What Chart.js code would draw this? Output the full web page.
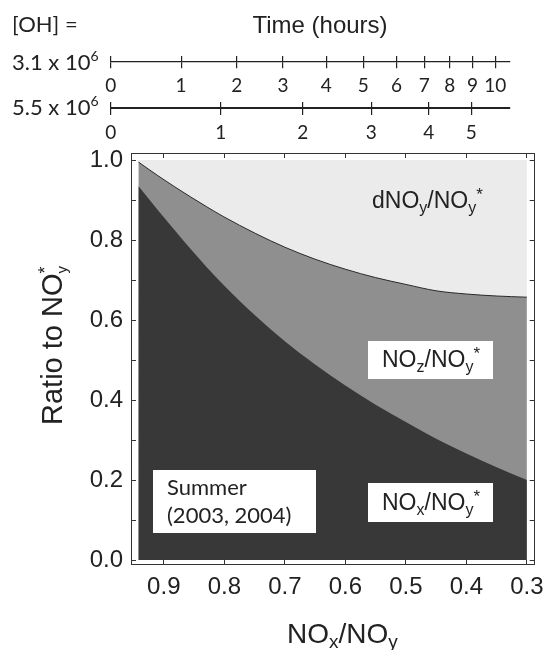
<!DOCTYPE html>
<html>
<head>
<meta charset="utf-8">
<script src="https://cdn.jsdelivr.net/npm/chart.js@4/dist/chart.umd.min.js"></script>
<style>
  html, body { margin: 0; padding: 0; background: #fff; }
  #wrap { position: relative; width: 558px; height: 650px; }
  #wrap canvas { position: absolute; left: 0; top: 0; }
</style>
</head>
<body>
<div id="wrap">
  <canvas id="main-chart" width="558" height="650"></canvas>
  <canvas id="time-chart" width="558" height="140"></canvas>
</div>
<script>
// NOx/NOy (x axis, runs right to left)
const noxNoy = [0.942, 0.91, 0.883, 0.856, 0.829, 0.802, 0.748, 0.70, 0.65, 0.60, 0.55, 0.50, 0.45, 0.40, 0.35, 0.30];
// NOy/NOy* : top of the mid-grey band
const noyFrac = [0.995, 0.961, 0.934, 0.908, 0.883, 0.859, 0.816, 0.782, 0.752, 0.727, 0.706, 0.689, 0.673, 0.665, 0.660, 0.657];
// NOx/NOy* : top of the dark band
const noxFrac = [0.935, 0.875, 0.826, 0.778, 0.732, 0.689, 0.610, 0.547, 0.489, 0.436, 0.388, 0.345, 0.303, 0.266, 0.232, 0.200];
// NOy* total
const totalX = [0.942, 0.30];
const totalFrac = [1.0, 1.0];

const xTicks = [0.9, 0.8, 0.7, 0.6, 0.5, 0.4, 0.3];
const yTicks = [0, 0.1, 0.2, 0.3, 0.4, 0.5, 0.6, 0.7, 0.8, 0.9, 1.0];

// time axes: NOx/NOy reached after each hour
const hoursOH31 = ['0', '1', '2', '3', '4', '5', '6', '7', '8', '9', '10'];
const posOH31 = [0.987, 0.873, 0.783, 0.708, 0.638, 0.578, 0.524, 0.479, 0.438, 0.401, 0.364];
const hoursOH55 = ['0', '1', '2', '3', '4', '5'];
const posOH55 = [0.987, 0.809, 0.676, 0.565, 0.472, 0.403];

const ARIAL = "'Liberation Sans', Arial, sans-serif";
const CALI = "Lato, 'Open Sans', sans-serif";
const INK = '#222';

function pts(xs, ys) {
    return xs.map((x, i) => ({ x: x, y: ys[i] }));
}

// text with sub/superscripts
function drawRich(ctx, parts, x, y, family, size) {
    let cx = x, prevStart = x;
    ctx.textBaseline = 'alphabetic';
    ctx.textAlign = 'left';
    for (const p of parts) {
        ctx.font = (p.s || size) + 'px ' + family;
        if (p.stack) cx = prevStart;
        prevStart = cx;
        ctx.fillText(p.t, cx, y + (p.dy || 0));
        cx += ctx.measureText(p.t).width;
    }
}

const labelsPlugin = {
    id: 'labels',
    afterDraw(chart) {
        const ctx = chart.ctx;
        ctx.save();
        ctx.fillStyle = INK;

        // y title
        ctx.save();
        ctx.translate(62, 425);
        ctx.rotate(-Math.PI / 2);
        drawRich(ctx, [
            { t: 'Ratio to NO' },
            { t: 'y', s: 15, dy: 5 },
            { t: '*', s: 18, dy: -11, stack: true }
        ], 0, 0, ARIAL, 29);
        ctx.restore();

        // x title
        drawRich(ctx, [
            { t: 'NO' }, { t: 'x', s: 19, dy: 5 }, { t: '/NO' }, { t: 'y', s: 19, dy: 5 }
        ], 287, 643, ARIAL, 28);

        // boxes
        ctx.fillStyle = '#fff';
        ctx.fillRect(153, 470, 163, 63);
        ctx.fillRect(368, 341, 125, 38);
        ctx.fillRect(368, 483, 125, 39);

        ctx.fillStyle = INK;
        ctx.font = '22px ' + CALI;
        ctx.textAlign = 'left';
        ctx.fillText('Summer', 167, 495);
        ctx.fillText('(2003, 2004)', 167, 523);

        drawRich(ctx, [
            { t: 'dNO' }, { t: 'y', s: 16, dy: 5 }, { t: '/NO' }, { t: 'y', s: 16, dy: 5 }, { t: '*', s: 17, dy: -8 }
        ], 372, 208, ARIAL, 23);
        drawRich(ctx, [
            { t: 'NO' }, { t: 'z', s: 16, dy: 5 }, { t: '/NO' }, { t: 'y', s: 16, dy: 5 }, { t: '*', s: 17, dy: -8 }
        ], 382, 367, ARIAL, 23);
        drawRich(ctx, [
            { t: 'NO' }, { t: 'x', s: 16, dy: 5 }, { t: '/NO' }, { t: 'y', s: 16, dy: 5 }, { t: '*', s: 17, dy: -8 }
        ], 382, 510, ARIAL, 23);
        ctx.restore();
    }
};

const frame = { color: '#333', width: 1 };
const inTicks = { drawOnChartArea: false, tickLength: -5, color: '#333', lineWidth: 1 };

new Chart(document.getElementById('main-chart'), {
    type: 'line',
    data: {
        datasets: [{
            label: 'NOx/NOy*',
            data: pts(noxNoy, noxFrac),
            fill: 'origin',
            backgroundColor: '#383838',
            borderColor: 'transparent',
            borderWidth: 0,
            pointRadius: 0,
            cubicInterpolationMode: 'monotone'
        }, {
            label: 'NOy/NOy*',
            data: pts(noxNoy, noyFrac),
            fill: 'origin',
            backgroundColor: '#8f8f8f',
            borderColor: '#2a2a2a',
            borderWidth: 1,
            pointRadius: 0,
            cubicInterpolationMode: 'monotone'
        }, {
            label: 'NOy*',
            data: pts(totalX, totalFrac),
            fill: 'origin',
            backgroundColor: '#ebebeb',
            borderColor: 'transparent',
            borderWidth: 0,
            pointRadius: 0
        }]
    },
    options: {
        responsive: false,
        animation: false,
        layout: { padding: 0 },
        plugins: { legend: { display: false }, tooltip: { enabled: false } },
        scales: {
            x: {
                type: 'linear', position: 'bottom', reverse: true, min: 0.2871, max: 0.9542,
                afterBuildTicks: s => { s.ticks = xTicks.map(v => ({ value: v })); },
                afterFit: s => { s.height = 86; },
                grid: inTicks, border: frame,
                ticks: {
                    autoSkip: false, maxRotation: 0, padding: 14, color: INK,
                    font: { family: ARIAL, size: 24 },
                    callback: v => v.toFixed(1)
                }
            },
            xTop: {
                type: 'linear', axis: 'x', position: 'top', reverse: true, min: 0.2871, max: 0.9542,
                afterBuildTicks: s => { s.ticks = xTicks.map(v => ({ value: v })); },
                afterFit: s => { s.height = 153; },
                grid: inTicks, border: frame,
                ticks: { display: false }
            },
            y: {
                type: 'linear', position: 'left', min: -0.01, max: 1.0175,
                afterBuildTicks: s => { s.ticks = yTicks.map(v => ({ value: v })); },
                afterFit: s => { s.width = 131; },
                grid: inTicks, border: frame,
                ticks: {
                    autoSkip: false, padding: 13, color: INK,
                    font: { family: ARIAL, size: 24 },
                    callback: v => (Math.round(v * 10) % 2 === 0 ? v.toFixed(1) : '')
                }
            },
            yRight: {
                type: 'linear', axis: 'y', position: 'right', min: -0.01, max: 1.0175,
                afterBuildTicks: s => { s.ticks = yTicks.map(v => ({ value: v })); },
                afterFit: s => { s.width = 15; },
                grid: inTicks, border: frame,
                ticks: { display: false }
            }
        }
    },
    plugins: [labelsPlugin]
});

// ---- time axes on top ----
function timeAxis(pos, labels, row, lw, pad) {
    return {
        type: 'linear', axis: 'x', position: { yRow: row }, reverse: true, min: 0.3403, max: 0.9866,
        afterBuildTicks: s => { s.ticks = pos.map(v => ({ value: v })); },
        grid: { drawOnChartArea: false, tickLength: 6, color: '#222', lineWidth: 1.2 },
        border: { color: '#222', width: lw },
        ticks: {
            autoSkip: false, maxRotation: 0, padding: pad, color: INK,
            font: { family: CALI, size: 19 },
            callback: (v, i) => labels[i]
        }
    };
}

function tickStub(pos, row) {
    return {
        type: 'linear', axis: 'x', position: { yRow: row }, reverse: true, min: 0.3403, max: 0.9866,
        afterBuildTicks: s => { s.ticks = pos.map(v => ({ value: v })); },
        grid: { drawOnChartArea: false, tickLength: -6, color: '#222', lineWidth: 1.2 },
        border: { display: false },
        ticks: { display: false }
    };
}

const rowLabels = {
    id: 'rowLabels',
    afterDraw(chart) {
        const ctx = chart.ctx;
        ctx.save();
        ctx.fillStyle = INK;
        ctx.textBaseline = 'alphabetic';
        ctx.font = '24px ' + ARIAL;
        ctx.textAlign = 'center';
        ctx.fillText('Time (hours)', 320, 33);
        ctx.font = '22px ' + CALI;
        ctx.textAlign = 'left';
        ctx.fillText('[OH] =', 12, 32);
        drawRich(ctx, [{ t: '3.1 x 10' }, { t: '6', s: 14, dy: -9 }], 12, 70, CALI, 22);
        drawRich(ctx, [{ t: '5.5 x 10' }, { t: '6', s: 14, dy: -9 }], 12, 115, CALI, 22);
        ctx.restore();
    }
};

new Chart(document.getElementById('time-chart'), {
    type: 'line',
    data: { datasets: [] },
    options: {
        responsive: false,
        animation: false,
        layout: { padding: { left: 111, right: 48, top: 0, bottom: 0 } },
        plugins: { legend: { display: false }, tooltip: { enabled: false } },
        scales: {
            yRow: { type: 'linear', axis: 'y', position: 'left', display: false, min: 0, max: 140, reverse: true },
            xOH31: timeAxis(posOH31, hoursOH31, 62, 1.2, 6),
            xOH31up: tickStub(posOH31, 62),
            xOH55: timeAxis(posOH55, hoursOH55, 108, 2, 7),
            xOH55up: tickStub(posOH55, 108)
        }
    },
    plugins: [rowLabels]
});
</script>
</body>
</html>
